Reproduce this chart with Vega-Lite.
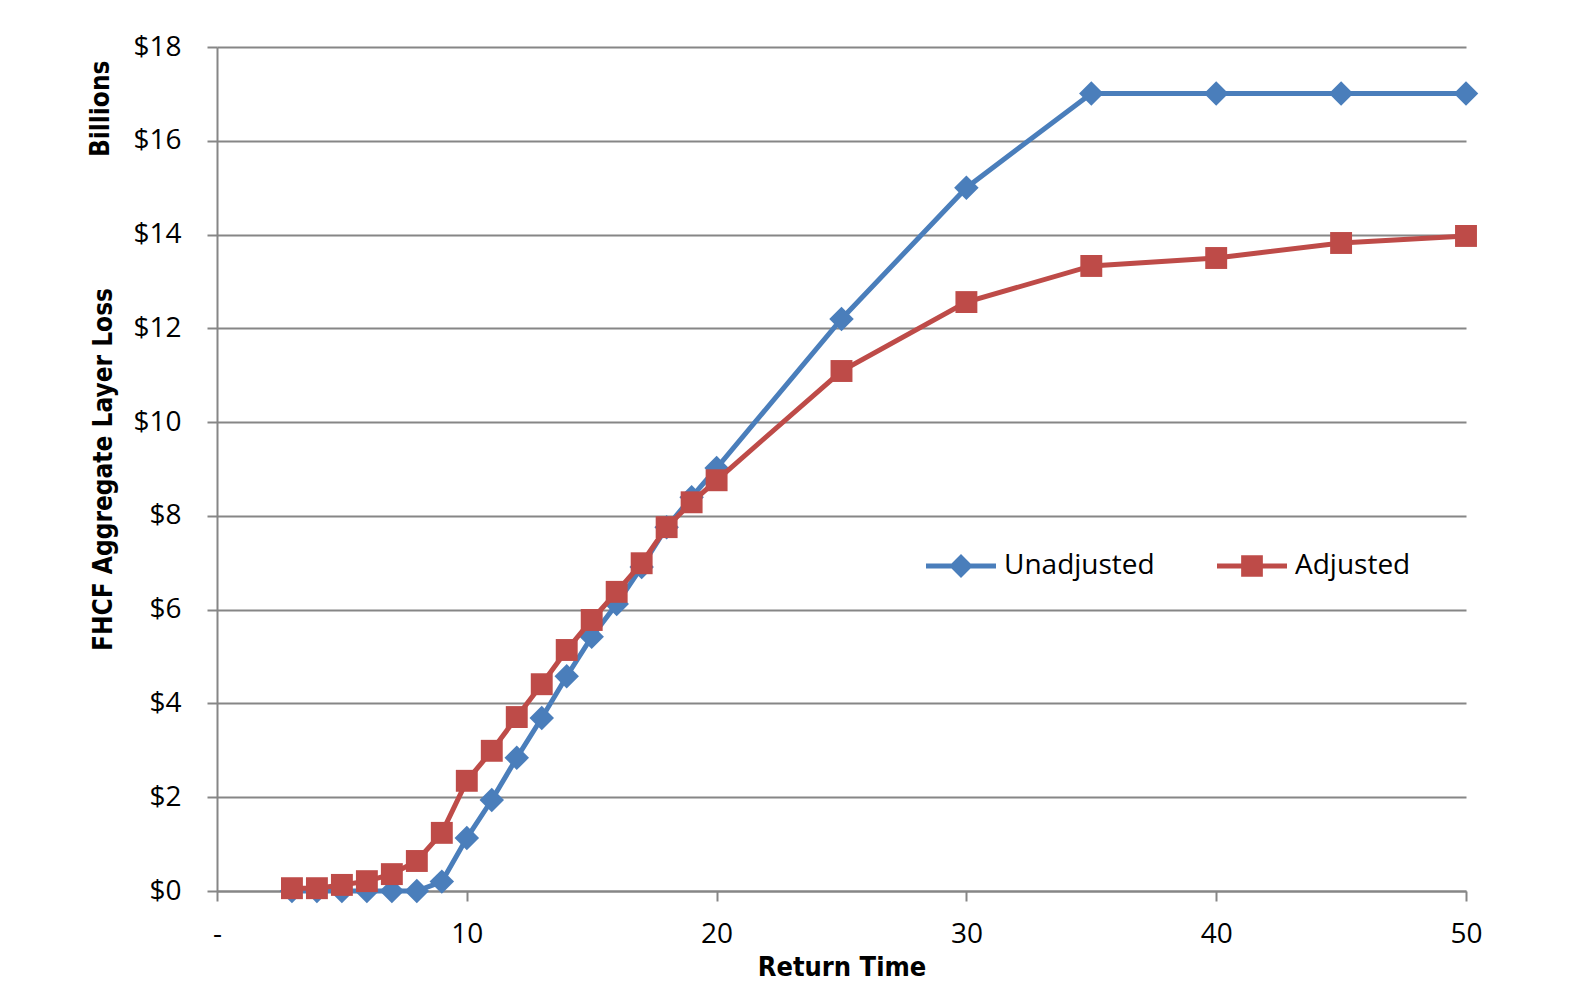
{
  "$schema": "https://vega.github.io/schema/vega-lite/v6.json",
  "width": 1249,
  "height": 844,
  "autosize": "none",
  "padding": {"left": 217, "top": 47, "right": 104, "bottom": 97},
  "background": "white",
  "config": {
    "view": {"stroke": null},
    "axis": {"labelColor": "black", "titleColor": "black"}
  },
  "resolve": {"axis": {"y": "independent"}},
  "data": {"values": [
    {"x": 3, "series": "Unadjusted", "y": 0},
    {"x": 4, "series": "Unadjusted", "y": 0},
    {"x": 5, "series": "Unadjusted", "y": 0},
    {"x": 6, "series": "Unadjusted", "y": 0},
    {"x": 7, "series": "Unadjusted", "y": 0},
    {"x": 8, "series": "Unadjusted", "y": 0},
    {"x": 9, "series": "Unadjusted", "y": 0.2},
    {"x": 10, "series": "Unadjusted", "y": 1.13},
    {"x": 11, "series": "Unadjusted", "y": 1.94},
    {"x": 12, "series": "Unadjusted", "y": 2.84},
    {"x": 13, "series": "Unadjusted", "y": 3.69},
    {"x": 14, "series": "Unadjusted", "y": 4.58},
    {"x": 15, "series": "Unadjusted", "y": 5.42},
    {"x": 16, "series": "Unadjusted", "y": 6.12},
    {"x": 17, "series": "Unadjusted", "y": 6.91},
    {"x": 18, "series": "Unadjusted", "y": 7.76},
    {"x": 19, "series": "Unadjusted", "y": 8.4},
    {"x": 20, "series": "Unadjusted", "y": 9.02},
    {"x": 25, "series": "Unadjusted", "y": 12.2},
    {"x": 30, "series": "Unadjusted", "y": 15.0},
    {"x": 35, "series": "Unadjusted", "y": 17.01},
    {"x": 40, "series": "Unadjusted", "y": 17.01},
    {"x": 45, "series": "Unadjusted", "y": 17.01},
    {"x": 50, "series": "Unadjusted", "y": 17.01},
    {"x": 3, "series": "Adjusted", "y": 0.06},
    {"x": 4, "series": "Adjusted", "y": 0.06},
    {"x": 5, "series": "Adjusted", "y": 0.13},
    {"x": 6, "series": "Adjusted", "y": 0.21},
    {"x": 7, "series": "Adjusted", "y": 0.36},
    {"x": 8, "series": "Adjusted", "y": 0.64},
    {"x": 9, "series": "Adjusted", "y": 1.24},
    {"x": 10, "series": "Adjusted", "y": 2.35},
    {"x": 11, "series": "Adjusted", "y": 2.99},
    {"x": 12, "series": "Adjusted", "y": 3.71},
    {"x": 13, "series": "Adjusted", "y": 4.41},
    {"x": 14, "series": "Adjusted", "y": 5.14},
    {"x": 15, "series": "Adjusted", "y": 5.78},
    {"x": 16, "series": "Adjusted", "y": 6.38},
    {"x": 17, "series": "Adjusted", "y": 6.99},
    {"x": 18, "series": "Adjusted", "y": 7.76},
    {"x": 19, "series": "Adjusted", "y": 8.29},
    {"x": 20, "series": "Adjusted", "y": 8.76},
    {"x": 25, "series": "Adjusted", "y": 11.09},
    {"x": 30, "series": "Adjusted", "y": 12.56},
    {"x": 35, "series": "Adjusted", "y": 13.33},
    {"x": 40, "series": "Adjusted", "y": 13.5},
    {"x": 45, "series": "Adjusted", "y": 13.82},
    {"x": 50, "series": "Adjusted", "y": 13.97}
  ]},
  "encoding": {
    "x": {
      "field": "x", "type": "quantitative",
      "scale": {"domain": [0, 50], "nice": false, "zero": false},
      "axis": {
        "title": "Return Time",
        "values": [0, 10, 20, 30, 40, 50],
        "labelExpr": "datum.value == 0 ? '-' : datum.label",
        "grid": false,
        "domainColor": "#868686", "domainWidth": 2,
        "tickColor": "#868686", "tickWidth": 2, "tickSize": 10,
        "labelFont": "Open Sans", "labelFontSize": 28, "labelPadding": 19,
        "labelFlush": false,
        "titleFont": "DejaVu Sans Condensed", "titleFontSize": 27, "titleFontWeight": "bold",
        "titlePadding": 6
      }
    },
    "color": {
      "field": "series", "type": "nominal",
      "scale": {"domain": ["Unadjusted", "Adjusted"], "range": ["#4A7EBB", "#BE4B48"]},
      "legend": {
        "title": null,
        "orient": "none",
        "direction": "horizontal",
        "legendX": 709,
        "legendY": 484,
        "symbolSize": 4900,
        "symbolStrokeWidth": 0,
        "symbolOpacity": 1,
        "labelFont": "Open Sans",
        "labelFontSize": 28,
        "labelColor": "black",
        "labelOffset": 8,
        "columnPadding": 62,
        "padding": 0
      }
    }
  },
  "layer": [
    {
      "layer": [
        {
          "transform": [{"filter": "datum.series == 'Unadjusted'"}],
          "mark": {"type": "line", "strokeWidth": 5}
        },
        {
          "transform": [{"filter": "datum.series == 'Unadjusted'"}],
          "mark": {"type": "point", "shape": "diamond", "filled": true, "size": 600, "opacity": 1}
        },
        {
          "transform": [{"filter": "datum.series == 'Adjusted'"}],
          "mark": {"type": "line", "strokeWidth": 5}
        },
        {
          "transform": [{"filter": "datum.series == 'Adjusted'"}],
          "mark": {"type": "point", "shape": "square", "filled": true, "size": 480, "opacity": 1}
        }
      ],
      "encoding": {
        "y": {
          "field": "y", "type": "quantitative",
          "scale": {"domain": [0, 18], "nice": false},
          "axis": {
            "title": "FHCF Aggregate Layer Loss",
            "values": [0, 2, 4, 6, 8, 10, 12, 14, 16, 18],
            "format": "$.0f",
            "grid": true, "gridColor": "#868686", "gridWidth": 2,
            "domainColor": "#868686", "domainWidth": 2,
            "tickColor": "#868686", "tickWidth": 2, "tickSize": 10,
            "labelFont": "Open Sans", "labelFontSize": 28, "labelPadding": 26,
            "labelFlush": false,
            "titleFont": "DejaVu Sans Condensed", "titleFontSize": 26, "titleFontWeight": "bold",
            "titlePadding": 16
          }
        }
      }
    },
    {
      "transform": [{"filter": "datum.x < 0"}],
      "mark": {"type": "point", "filled": true, "opacity": 1},
      "encoding": {
        "y": {
          "field": "y", "type": "quantitative",
          "scale": {"domain": [0, 18], "nice": false},
          "axis": {
            "title": "Billions",
            "orient": "left",
            "labels": false, "ticks": false, "domain": false, "grid": false,
            "titleAnchor": "end",
            "titleX": -104,
            "titleY": 13,
            "titleBaseline": "bottom",
            "titleAlign": "right",
            "titleAngle": 270,
            "titleFont": "DejaVu Sans Condensed", "titleFontSize": 26, "titleFontWeight": "bold",
            "titlePadding": 0
          }
        },
        "shape": {
          "field": "series", "type": "nominal",
          "scale": {
            "domain": ["Unadjusted", "Adjusted"],
            "range": [
              "M-1,-0.07L-0.27,-0.07L0,-0.34L0.27,-0.07L1,-0.07L1,0.07L0.27,0.07L0,0.34L-0.27,0.07L-1,0.07Z",
              "M-1,-0.07L-0.31,-0.07L-0.31,-0.31L0.31,-0.31L0.31,-0.07L1,-0.07L1,0.07L0.31,0.07L0.31,0.31L-0.31,0.31L-0.31,0.07L-1,0.07Z"
            ]
          },
          "legend": {
            "title": null,
            "orient": "none",
            "direction": "horizontal",
            "legendX": 709,
            "legendY": 484,
            "symbolSize": 4900,
            "symbolStrokeWidth": 0,
            "symbolOpacity": 1,
            "labelFont": "Open Sans",
            "labelFontSize": 28,
            "labelColor": "black",
            "labelOffset": 8,
            "columnPadding": 62,
            "padding": 0
          }
        }
      }
    }
  ]
}
